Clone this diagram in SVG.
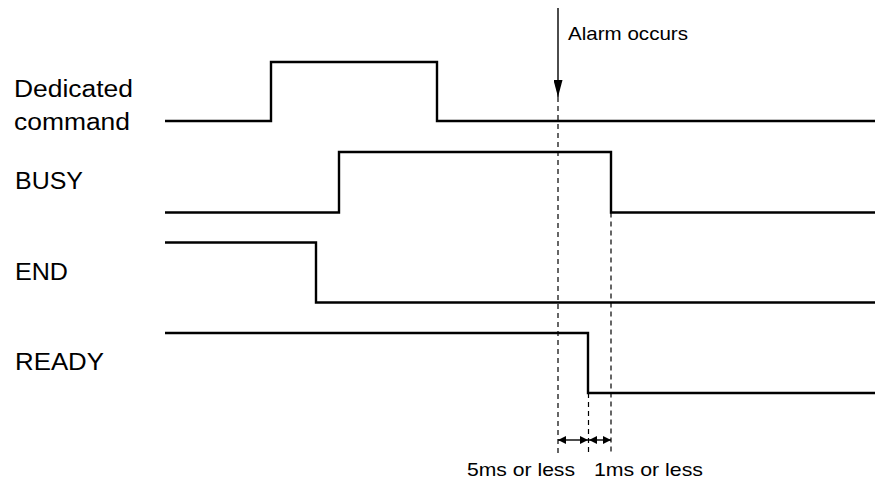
<svg xmlns="http://www.w3.org/2000/svg" width="875" height="483" viewBox="0 0 875 483">
  <defs>
    <style>
      .sig { fill: none; stroke: #000; stroke-width: 2.4; stroke-linejoin: miter; }
      .lbl { font-family: "Liberation Sans", Arial, sans-serif; font-size: 23.5px; fill: #000; }
      .sm { font-family: "Liberation Sans", Arial, sans-serif; font-size: 18.5px; fill: #000; }
      .dash { fill: none; stroke: #000; stroke-width: 1.2; stroke-dasharray: 5 4; }
      .conn { fill: none; stroke: #000; stroke-width: 1.4; }
    </style>
    <marker id="ah" viewBox="0 0 8 8" refX="8" refY="4" markerWidth="8" markerHeight="8" markerUnits="userSpaceOnUse" orient="auto-start-reverse">
      <path d="M0,0 L8,4 L0,8 Z" fill="#000"/>
    </marker>
    <marker id="ahLong" viewBox="0 0 17 9" refX="17" refY="4.5" markerWidth="17" markerHeight="9" markerUnits="userSpaceOnUse" orient="auto">
      <path d="M0,0 L17,4.5 L0,9 Z" fill="#000"/>
    </marker>
  </defs>

  <g id="dedicated-command">
    <text class="lbl" x="14" y="97" textLength="119" lengthAdjust="spacingAndGlyphs">Dedicated</text>
    <text class="lbl" x="14" y="130" textLength="116" lengthAdjust="spacingAndGlyphs">command</text>
    <path class="sig" d="M165 121 H271 V62 H437 V121 H875"/>
  </g>

  <g id="busy">
    <text class="lbl" x="15" y="189" textLength="68" lengthAdjust="spacingAndGlyphs">BUSY</text>
    <path class="sig" d="M165 212.5 H339 V152 H611 V212.5 H875"/>
  </g>

  <g id="end">
    <text class="lbl" x="15" y="280" textLength="53" lengthAdjust="spacingAndGlyphs">END</text>
    <path class="sig" d="M165 242.5 H316 V302.5 H875"/>
  </g>

  <g id="ready">
    <text class="lbl" x="15" y="370" textLength="89" lengthAdjust="spacingAndGlyphs">READY</text>
    <path class="sig" d="M165 333 H588 V393 H875"/>
  </g>

  <g id="alarm">
    <text class="sm" x="568" y="40" textLength="120" lengthAdjust="spacingAndGlyphs">Alarm occurs</text>
  </g>

  <g id="timing-labels">
    <text class="sm" x="467" y="476" textLength="108" lengthAdjust="spacingAndGlyphs">5ms or less</text>
    <text class="sm" x="594" y="476" textLength="109" lengthAdjust="spacingAndGlyphs">1ms or less</text>
  </g>

  <g id="connectors">
    <line class="conn" x1="558" y1="8" x2="558" y2="97" marker-end="url(#ahLong)"/>
    <line class="dash" x1="558" y1="97" x2="558" y2="453"/>
    <line class="dash" x1="588.5" y1="393" x2="588.5" y2="453"/>
    <line class="dash" x1="611" y1="212.5" x2="611" y2="453"/>
    <line class="conn" x1="558" y1="440" x2="588" y2="440" marker-start="url(#ah)" marker-end="url(#ah)"/>
    <line class="conn" x1="589" y1="440" x2="611" y2="440" marker-start="url(#ah)" marker-end="url(#ah)"/>
  </g>
</svg>
